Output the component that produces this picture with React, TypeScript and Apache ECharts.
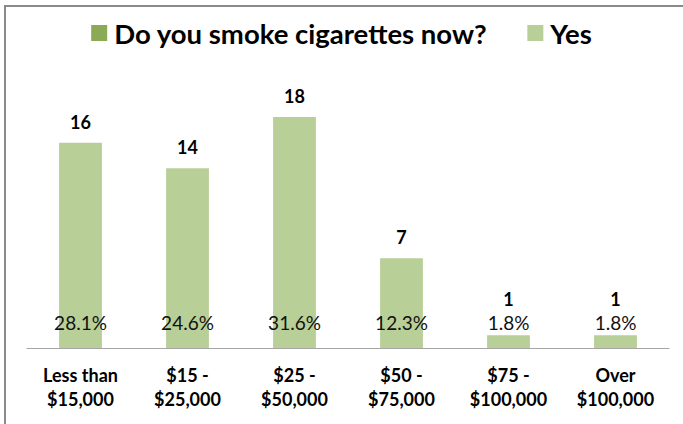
import React, { useEffect, useRef } from "react";
import * as echarts from "echarts";

const categories = ["Less than\n$15,000", "$15 -\n$25,000", "$25 -\n$50,000", "$50 -\n$75,000", "$75 -\n$100,000", "Over\n$100,000"];
const counts = [16, 14, 18, 7, 1, 1];
const percents = ["28.1%", "24.6%", "31.6%", "12.3%", "1.8%", "1.8%"];
const seriesNames = ["Do you smoke cigarettes now?", "Yes"];

const FONT = "Lato";

export default function App() {
  const ref = useRef<HTMLDivElement>(null);
  useEffect(() => {
    if (!ref.current) return;
    const chart = echarts.init(ref.current, undefined, { renderer: "svg" });
    chart.setOption({
      animation: false,
      backgroundColor: "#ffffff",
      textStyle: { fontFamily: FONT },
      graphic: [
        {
          type: "rect",
          shape: { x: 5, y: 6, width: 800, height: 600 },
          style: { fill: "none", stroke: "#8a8a8a", lineWidth: 2 },
          silent: true,
        },
      ],
      legend: {
        top: 14,
        left: "center",
        itemWidth: 16,
        itemHeight: 16,
        itemGap: 40,
        icon: "rect",
        textStyle: { fontFamily: FONT, fontWeight: "bold", fontSize: 27.5, color: "#000", padding: [0, 0, 0, 2] },
        data: [
          { name: seriesNames[0], itemStyle: { color: "#8aaa55" } },
          { name: seriesNames[1], itemStyle: { color: "#b8cf97" } },
        ],
      },
      grid: { left: 27, right: 14, top: 117, bottom: 76 },
      xAxis: {
        type: "category",
        data: categories,
        axisLine: { lineStyle: { color: "#a6a6a6", width: 1 } },
        axisTick: { show: false },
        axisLabel: {
          margin: 15,
          color: "#000",
          fontFamily: FONT,
          fontWeight: "bold",
          fontSize: 18,
          lineHeight: 24,
          interval: 0,
        },
      },
      yAxis: { type: "value", min: 0, max: 18, show: false, splitLine: { show: false } },
      series: [
        {
          name: seriesNames[0],
          type: "bar",
          barWidth: "40%",
          data: counts,
          itemStyle: { color: "rgba(0,0,0,0)" },
          label: {
            show: true,
            position: "insideBottom",
            distance: 16,
            color: "#111",
            fontFamily: FONT,
            fontSize: 19,
            formatter: (p: any) => percents[p.dataIndex],
          },
          z: 3,
        },
        {
          name: seriesNames[1],
          type: "bar",
          barWidth: "40%",
          barGap: "-100%",
          data: counts.map((v) => (v <= 2 ? { value: v, label: { distance: 27 } } : v)),
          itemStyle: { color: "#b8cf97" },
          label: {
            show: true,
            position: "top",
            distance: 12,
            color: "#000",
            fontFamily: FONT,
            fontWeight: "bold",
            fontSize: 18,
          },
          z: 2,
        },
      ],
    });
    return () => chart.dispose();
  }, []);
  return (
    <div
      ref={ref}
      style={{ position: "fixed", left: 0, top: 0, width: 683, height: 424, background: "#fff" }}
    />
  );
}
